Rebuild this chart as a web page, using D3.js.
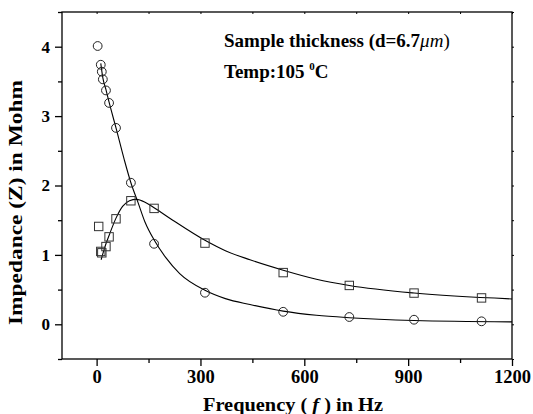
<!DOCTYPE html>
<html><head><meta charset="utf-8">
<script src="https://cdn.jsdelivr.net/npm/d3@7"></script>
<style>body{margin:0;background:#fff}svg{display:block}text{font-family:"Liberation Serif","Times New Roman",serif;font-weight:bold;fill:#000}</style>
</head><body><svg id="c" width="533" height="414"></svg>
<script>
// Measured data: circles (series 1) and squares (series 2)
const circleFreq = [3, 12, 15, 18, 27, 36, 56, 99, 166, 313, 539, 730, 917, 1112];
const circleZ    = [4.01, 3.74, 3.64, 3.53, 3.37, 3.19, 2.83, 2.04, 1.16, 0.455, 0.18, 0.105, 0.066, 0.043];
const squareFreq = [6, 12, 15, 27, 36, 56, 99, 166, 313, 539, 730, 917, 1112];
const squareZ    = [1.41, 1.05, 1.03, 1.12, 1.26, 1.52, 1.78, 1.67, 1.17, 0.745, 0.56, 0.45, 0.38];
// Fitted curves
const fit1Freq = [12, 18, 27, 36, 56, 80, 99, 120, 140, 168, 200, 240, 313, 372, 443, 539, 635, 730, 917, 1200];
const fit1Z    = [3.76, 3.55, 3.38, 3.2, 2.83, 2.37, 2.04, 1.75, 1.47, 1.2, 0.96, 0.73, 0.49, 0.37, 0.285, 0.19, 0.13, 0.095, 0.055, 0.035];
const fit2Freq = [13, 20, 27, 36, 56, 75, 95, 115, 140, 166, 220, 313, 372, 443, 539, 635, 730, 917, 1200];
const fit2Z    = [0.93, 1.05, 1.16, 1.28, 1.53, 1.70, 1.78, 1.80, 1.76, 1.68, 1.50, 1.21, 1.06, 0.93, 0.78, 0.65, 0.56, 0.45, 0.365];
const xTicks = [0, 300, 600, 900, 1200];
const xMinor = [-150, 150, 450, 750, 1050];
const yTicks = [0, 1, 2, 3, 4];
const yMinor = [-0.5, 0.5, 1.5, 2.5, 3.5, 4.5];

const L = 62, R = 512, T = 12, B = 359;
const svg = d3.select("#c");
const x = d3.scaleLinear().domain([-100, 1200]).range([L, R]);
const y = d3.scaleLinear().domain([-0.5, 4.5]).range([B, T]);

// frame
svg.append("rect").attr("x", L).attr("y", T).attr("width", R - L).attr("height", B - T)
  .attr("fill", "none").attr("stroke", "#000").attr("stroke-width", 1.3);

// bottom axis
const gB = svg.append("g").attr("transform", `translate(0,${B})`);
gB.call(d3.axisBottom(x).tickValues(xTicks).tickSize(7).tickPadding(4).tickFormat(d3.format("d")));
gB.append("g").call(d3.axisBottom(x).tickValues(xMinor.filter(v => v > -100)).tickSize(4).tickFormat(""));
gB.selectAll(".domain").remove();
gB.selectAll("line").attr("stroke", "#000").attr("stroke-width", 1.3);
gB.selectAll("text").attr("font-size", 18.5).attr("font-family", "Liberation Serif").attr("font-weight", "bold").attr("fill", "#000");

// left axis
const gL = svg.append("g").attr("transform", `translate(${L},0)`);
gL.call(d3.axisLeft(y).tickValues(yTicks).tickSize(7).tickPadding(5).tickFormat(d3.format("d")));
gL.append("g").call(d3.axisLeft(y).tickValues(yMinor).tickSize(4).tickFormat(""));
gL.selectAll(".domain").remove();
gL.selectAll("line").attr("stroke", "#000").attr("stroke-width", 1.3);
gL.selectAll("text").attr("font-size", 17).attr("font-family", "Liberation Serif").attr("font-weight", "bold").attr("fill", "#000");

// top axis (inward ticks)
const gT = svg.append("g").attr("transform", `translate(0,${T})`);
gT.call(d3.axisBottom(x).tickValues(xTicks.concat(xMinor.filter(v => v > -100))).tickSize(2).tickFormat(""));
gT.selectAll(".domain").remove();
gT.selectAll("line").attr("stroke", "#000");
// right axis (outward small ticks)
const gR = svg.append("g").attr("transform", `translate(${R},0)`);
gR.call(d3.axisRight(y).tickValues(yTicks.concat(yMinor)).tickSize(2).tickFormat(""));
gR.selectAll(".domain").remove();
gR.selectAll("line").attr("stroke", "#000");

// fitted curves
const line = d3.line().x(d => x(d[0])).y(d => y(d[1])).curve(d3.curveMonotoneX);
svg.append("path").datum(d3.zip(fit1Freq, fit1Z)).attr("d", line)
  .attr("fill", "none").attr("stroke", "#000").attr("stroke-width", 1.1);
svg.append("path").datum(d3.zip(fit2Freq, fit2Z)).attr("d", line)
  .attr("fill", "none").attr("stroke", "#000").attr("stroke-width", 1.1);

// markers
svg.append("g").selectAll("circle").data(d3.zip(circleFreq, circleZ)).join("circle")
  .attr("cx", d => x(d[0])).attr("cy", d => y(d[1])).attr("r", 4.4)
  .attr("fill", "none").attr("stroke", "#222").attr("stroke-width", 1);
svg.append("g").selectAll("rect").data(d3.zip(squareFreq, squareZ)).join("rect")
  .attr("x", d => x(d[0]) - 4.2).attr("y", d => y(d[1]) - 4.2).attr("width", 8.4).attr("height", 8.4)
  .attr("fill", "none").attr("stroke", "#333").attr("stroke-width", 1);

// annotations
const t1 = svg.append("text").attr("x", 224).attr("y", 47).attr("font-size", 19);
t1.append("tspan").text("Sample thickness (d=6.7");
t1.append("tspan").attr("font-style", "italic").attr("font-weight", "normal").text("μm");
t1.append("tspan").attr("font-weight", "normal").text(")");
const t2 = svg.append("text").attr("x", 224).attr("y", 78).attr("font-size", 19);
t2.append("tspan").text("Temp:105 ");
t2.append("tspan").attr("font-size", 11).attr("dy", -8).text("0");
t2.append("tspan").attr("dy", 8).text("C");

// axis titles
svg.append("text").attr("x", 293).attr("y", 411).attr("text-anchor", "middle")
  .attr("font-size", 19).attr("textLength", 180).attr("lengthAdjust", "spacingAndGlyphs")
  .html('Frequency ( <tspan font-style="italic">f</tspan> ) in Hz');
svg.append("text").attr("transform", `translate(22,${(80 + 325) / 2}) rotate(-90)`).attr("text-anchor", "middle")
  .attr("font-size", 19).attr("textLength", 245).attr("lengthAdjust", "spacingAndGlyphs")
  .text("Impedance (Z) in Mohm");
</script></body></html>
